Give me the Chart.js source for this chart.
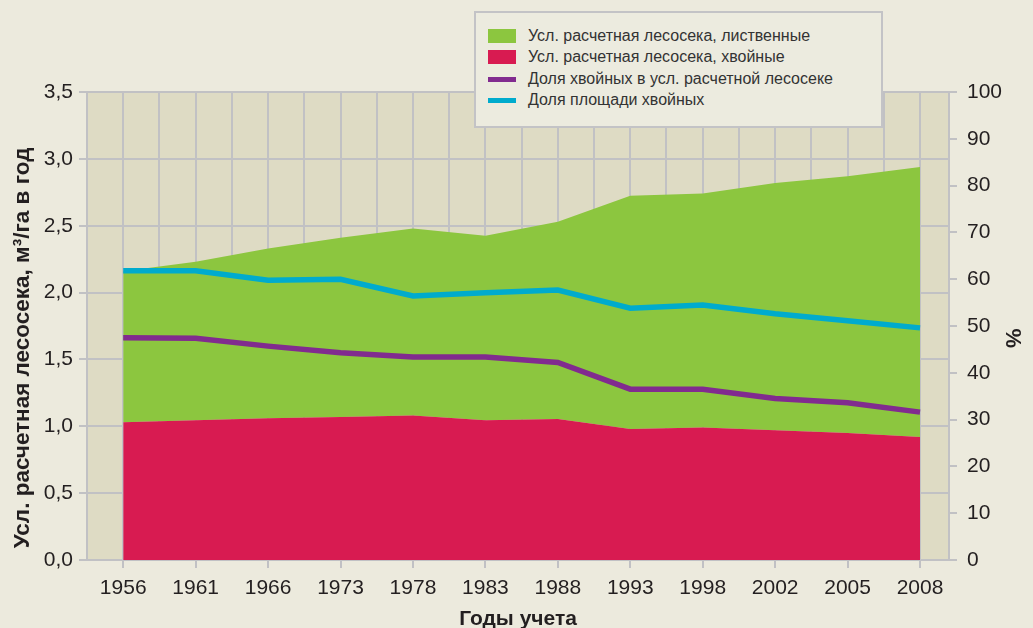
<!DOCTYPE html>
<html lang="ru">
<head>
<meta charset="utf-8">
<script src="https://cdn.jsdelivr.net/npm/chart.js@4.4.1/dist/chart.umd.min.js"></script>
<style>
  html, body { margin: 0; padding: 0; background: #eceadd; }
  #wrap { position: relative; width: 1033px; height: 628px; }
  #legend {
    position: absolute; left: 474px; top: 11px; width: 405px; height: 113px;
    background: #ecebdf; border: 2px solid #c3c3c6;
    font-family: "Liberation Sans", Arial, sans-serif; font-size: 16px; color: #333;
    box-sizing: content-box;
  }
  .li { position: absolute; left: 12px; height: 22px; display: flex; align-items: center; white-space: nowrap; }
  .sw { width: 28px; margin-right: 12px; }
</style>
</head>
<body>
<div id="wrap">
  <canvas id="c" width="1033" height="628"></canvas>
  <div id="legend"></div>
</div>
<script>
// ---- data ----
const years = ['1956','1961','1966','1973','1978','1983','1988','1993','1998','2002','2005','2008'];
// conditional allowable cut, conifers (m3/ha per year)
const coniferCut = [1.03, 1.045, 1.06, 1.07, 1.08, 1.045, 1.055, 0.98, 0.99, 0.97, 0.95, 0.92];
// conditional allowable cut, deciduous (stacked on top of conifers)
const deciduousCut = [1.13, 1.185, 1.27, 1.34, 1.40, 1.38, 1.475, 1.745, 1.75, 1.85, 1.92, 2.02];
// share of conifers in the allowable cut, %
const coniferShareCut = [47.5, 47.4, 45.7, 44.3, 43.4, 43.4, 42.2, 36.5, 36.5, 34.5, 33.6, 31.6];
// share of conifer area, %
const coniferShareArea = [61.8, 61.8, 59.8, 60.0, 56.4, 57.1, 57.7, 53.8, 54.5, 52.6, 51.1, 49.6];
const leftTicks = [0, 0.5, 1.0, 1.5, 2.0, 2.5, 3.0, 3.5];
const rightTicks = [0, 10, 20, 30, 40, 50, 60, 70, 80, 90, 100];

const seriesNames = [
  'Усл. расчетная лесосека, лиственные',
  'Усл. расчетная лесосека, хвойные',
  'Доля хвойных в усл. расчетной лесосеке',
  'Доля площади хвойных'
];

// ---- styles ----
const GREEN = '#8cc63f', RED = '#d81b51', PURPLE = '#812b8f', BLUE = '#00abcd';
const GRID = '#c1c1c4', PLOTBG = '#dedbc4', TXT = '#231f20';
const FONT = '"Liberation Sans", Arial, sans-serif';

const toXY = arr => arr.map((v, i) => ({ x: i, y: v }));

const plotBg = {
  id: 'plotBg',
  beforeDraw(chart) {
    const { ctx, chartArea: a } = chart;
    ctx.save();
    ctx.fillStyle = PLOTBG;
    ctx.fillRect(a.left, a.top, a.right - a.left, a.bottom - a.top);
    ctx.restore();
  }
};

const chart = new Chart(document.getElementById('c'), {
  type: 'line',
  data: {
    datasets: [
      { label: seriesNames[1], data: toXY(coniferCut), yAxisID: 'y', stack: 'cut',
        backgroundColor: RED, borderColor: RED, borderWidth: 0, pointRadius: 0, fill: 'origin', order: 2, swatch: 'box' },
      { label: seriesNames[0], data: toXY(deciduousCut), yAxisID: 'y', stack: 'cut',
        backgroundColor: GREEN, borderColor: GREEN, borderWidth: 0, pointRadius: 0, fill: '-1', order: 2, swatch: 'box' },
      { label: seriesNames[2], data: toXY(coniferShareCut), yAxisID: 'y1',
        borderColor: PURPLE, borderWidth: 5.5, pointRadius: 0, fill: false, order: 1, swatch: 'line' },
      { label: seriesNames[3], data: toXY(coniferShareArea), yAxisID: 'y1',
        borderColor: BLUE, borderWidth: 5.5, pointRadius: 0, fill: false, order: 0, swatch: 'line' }
    ]
  },
  options: {
    responsive: false,
    animation: false,
    layout: { padding: { top: 92, left: 0, right: 0, bottom: 0 } },
    plugins: { legend: { display: false }, tooltip: { enabled: false } },
    scales: {
      x: {
        type: 'linear', min: -0.5, max: 11.4,
        afterBuildTicks(scale) {
          const t = [];
          for (let v = -0.5; v <= 11.001; v += 0.5) t.push({ value: Math.round(v * 10) / 10 });
          t.push({ value: 11.4 });
          scale.ticks = t;
        },
        afterFit(scale) { scale.height = 68; },
        grid: {
          color: GRID, lineWidth: 2, tickLength: 8, tickWidth: 2,
          tickColor: ctx => (ctx.tick && Number.isInteger(ctx.tick.value)) ? GRID : 'rgba(0,0,0,0)'
        },
        border: { display: true, color: GRID, width: 2 },
        ticks: {
          autoSkip: false, maxRotation: 0, padding: 8, color: TXT,
          font: { family: FONT, size: 21 },
          callback: v => Number.isInteger(v) ? years[v] : ''
        },
        title: { display: true, text: 'Годы учета', color: TXT,
          font: { family: FONT, size: 21, weight: 'bold' }, padding: { top: 0, bottom: -4 } }
      },
      y: {
        position: 'left', stacked: true, min: 0, max: 3.5,
        afterBuildTicks(scale) { scale.ticks = leftTicks.map(v => ({ value: v })); },
        afterFit(scale) { scale.width = 87; },
        grid: { color: GRID, lineWidth: 2, tickLength: 8, tickWidth: 2, tickColor: GRID },
        border: { display: true, color: GRID, width: 2 },
        ticks: { padding: 6, color: TXT, font: { family: FONT, size: 21 },
          callback: v => v.toFixed(1).replace('.', ',') },
        title: { display: true, text: 'Усл. расчетная лесосека, м³/га в год       ', color: TXT,
          font: { family: FONT, size: 22.5, weight: 'bold' }, padding: { top: 9, bottom: 0 } }
      },
      y1: {
        position: 'right', min: 0, max: 100,
        afterBuildTicks(scale) { scale.ticks = rightTicks.map(v => ({ value: v })); },
        afterFit(scale) { scale.width = 84; },
        grid: { drawOnChartArea: false, color: GRID, lineWidth: 2, tickLength: 8, tickWidth: 2, tickColor: GRID },
        border: { display: true, color: GRID, width: 2 },
        ticks: { padding: 10, color: TXT, font: { family: FONT, size: 21 } },
        title: { display: true, text: '    %', color: TXT,
          font: { family: FONT, size: 22, weight: 'bold' }, padding: { top: 8, bottom: 0 } }
      }
    }
  },
  plugins: [plotBg]
});

// ---- HTML legend built from the chart datasets ----
const legendOrder = [1, 0, 2, 3];
const rowCenters = [36, 57, 79, 100];
const lg = document.getElementById('legend');
legendOrder.forEach((di, k) => {
  const ds = chart.data.datasets[di];
  const row = document.createElement('div');
  row.className = 'li';
  row.style.top = (rowCenters[k] - 13 - 11) + 'px';
  const sw = document.createElement('div');
  sw.className = 'sw';
  if (ds.swatch === 'box') { sw.style.height = '14px'; sw.style.background = ds.backgroundColor; }
  else { sw.style.height = '5px'; sw.style.background = ds.borderColor; }
  const tx = document.createElement('span');
  tx.textContent = ds.label;
  row.appendChild(sw); row.appendChild(tx);
  lg.appendChild(row);
});
</script>
</body>
</html>
